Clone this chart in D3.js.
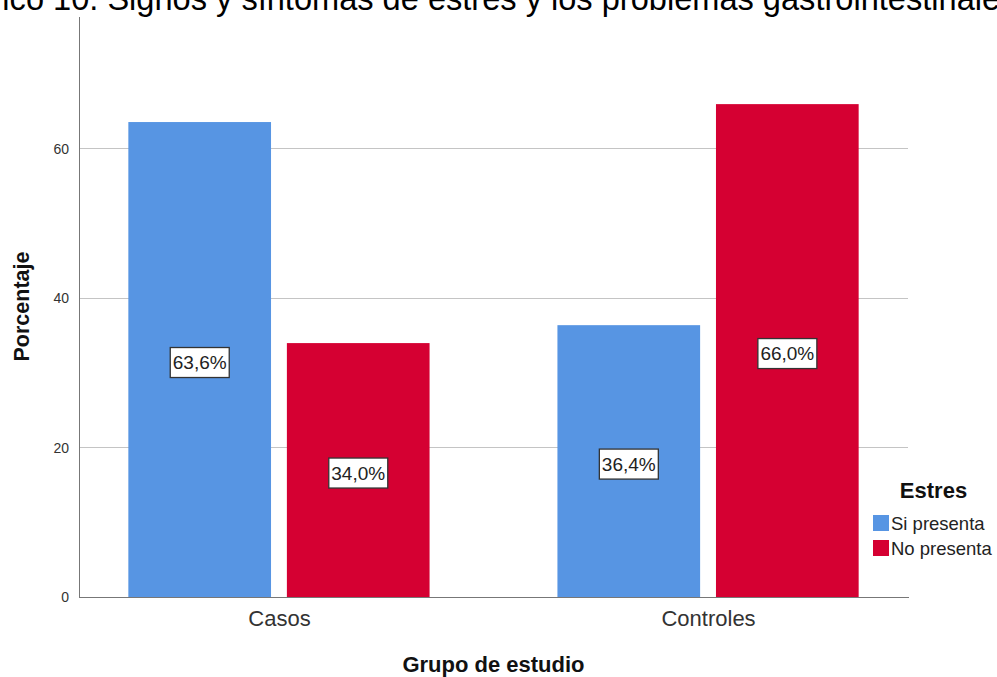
<!DOCTYPE html>
<html>
<head>
<meta charset="utf-8">
<script src="https://cdn.jsdelivr.net/npm/d3@7"></script>
<style>
  html, body { margin: 0; padding: 0; background: #fff; }
  svg { display: block; font-family: Arial, "Liberation Sans", sans-serif; }
</style>
</head>
<body>
<svg id="chart" width="997" height="677"></svg>
<script>
// Percentage of each study group by stress status
const groups = ["Casos", "Controles"];
const series = ["Si presenta", "No presenta"];
const siPresenta = [63.6, 36.4];
const noPresenta = [34.0, 66.0];
const yTicks = [0, 20, 40, 60];
const colors = ["#5795e3", "#d50032"];

const titleText = "Gráfico 10. Signos y síntomas de estrés y los problemas gastrointestinales";

const rows = groups.map((g, i) => ({
  group: g,
  values: [
    { key: series[0], value: siPresenta[i] },
    { key: series[1], value: noPresenta[i] }
  ]
}));

const svg = d3.select("#chart");
const plotLeft = 79, plotRight = 908, plotTop = 16, plotBottom = 597;
const FONT = "Arial, 'Liberation Sans', sans-serif";

const y = d3.scaleLinear().domain([0, 77.8]).range([plotBottom, plotTop]);
const x = d3.scalePoint().domain(groups).range([plotLeft, plotRight]).padding(0.466);
const groupWidth = x.step() * 0.702;
const xs = d3.scaleBand().domain(series).range([-groupWidth / 2, groupWidth / 2]).paddingInner(0.1);
const color = d3.scaleOrdinal().domain(series).range(colors);

// Title, running past the page edges
svg.append("text")
  .attr("x", -61).attr("y", 10)
  .attr("font-size", 32.6).attr("fill", "#000")
  .text(titleText);

// Gridlines
svg.append("g")
  .selectAll("line")
  .data(yTicks.filter(d => d > 0))
  .join("line")
  .attr("x1", plotLeft).attr("x2", plotRight)
  .attr("y1", d => y(d)).attr("y2", d => y(d))
  .attr("stroke", "#c4c4c4").attr("stroke-width", 1)
  .attr("shape-rendering", "crispEdges");

// Y axis
const yAxis = svg.append("g")
  .attr("transform", `translate(${plotLeft},0)`)
  .call(d3.axisLeft(y).tickValues(yTicks).tickSize(0).tickPadding(10).tickFormat(d3.format("d")));
yAxis.select(".domain").attr("stroke", "#777").attr("shape-rendering", "crispEdges");
yAxis.selectAll("text").attr("font-size", 14).attr("fill", "#333").attr("font-family", FONT);

// Bars
const gGroups = svg.append("g")
  .selectAll("g")
  .data(rows)
  .join("g")
  .attr("transform", d => `translate(${x(d.group)},0)`);

gGroups.selectAll("rect")
  .data(d => d.values)
  .join("rect")
  .attr("x", d => xs(d.key))
  .attr("width", xs.bandwidth())
  .attr("y", d => y(d.value))
  .attr("height", d => y(0) - y(d.value))
  .attr("fill", d => color(d.key));

// X axis
const xAxis = svg.append("g")
  .attr("transform", `translate(0,${plotBottom})`)
  .call(d3.axisBottom(x).tickSize(0).tickPadding(13));
xAxis.select(".domain").attr("stroke", "#777").attr("shape-rendering", "crispEdges");
xAxis.selectAll("text").attr("font-size", 22).attr("fill", "#333").attr("font-family", FONT);

// Value labels in boxes at mid-bar height
const fmt = v => d3.format(".1f")(v).replace(".", ",") + "%";
const labels = gGroups.selectAll("g.lbl")
  .data(d => d.values)
  .join("g")
  .attr("class", "lbl")
  .attr("transform", d => `translate(${xs(d.key) + xs.bandwidth() / 2},${y(d.value / 2) + 3})`);

labels.each(function(d) {
  const g = d3.select(this);
  const t = g.append("text")
    .attr("text-anchor", "middle")
    .attr("dy", "0.36em")
    .attr("font-size", 19)
    .attr("fill", "#222")
    .text(fmt(d.value));
  const bb = t.node().getBBox();
  g.insert("rect", "text")
    .attr("x", bb.x - 2.5).attr("y", -15)
    .attr("width", bb.width + 5).attr("height", 30)
    .attr("fill", "#fff").attr("stroke", "#333").attr("stroke-width", 1.3);
});

// Axis titles
svg.append("text")
  .attr("x", (plotLeft + plotRight) / 2).attr("y", 672)
  .attr("text-anchor", "middle")
  .attr("font-size", 22).attr("font-weight", "bold").attr("fill", "#111")
  .text("Grupo de estudio");

svg.append("text")
  .attr("transform", `translate(29,${(plotTop + plotBottom) / 2}) rotate(-90)`)
  .attr("text-anchor", "middle")
  .attr("font-size", 21.5).attr("font-weight", "bold").attr("fill", "#111")
  .text("Porcentaje");

// Legend
const legend = svg.append("g").attr("transform", "translate(873,0)");
legend.append("text")
  .attr("x", 60.5).attr("y", 498)
  .attr("text-anchor", "middle")
  .attr("font-size", 22).attr("font-weight", "bold").attr("fill", "#111")
  .text("Estres");
const items = legend.selectAll("g.item")
  .data(series)
  .join("g")
  .attr("class", "item")
  .attr("transform", (d, i) => `translate(0,${515 + i * 25})`);
items.append("rect")
  .attr("width", 16).attr("height", 16)
  .attr("fill", d => color(d));
items.append("text")
  .attr("x", 18).attr("y", 15)
  .attr("font-size", 18.5).attr("fill", "#222")
  .text(d => d);
</script>
</body>
</html>
